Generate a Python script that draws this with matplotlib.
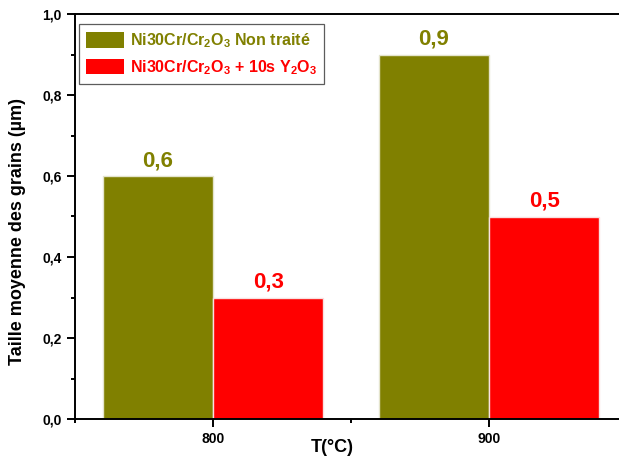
import numpy as np
import matplotlib
matplotlib.use("Agg")
import matplotlib.pyplot as plt
from matplotlib.ticker import MultipleLocator, FuncFormatter

# data
temperatures = [800, 900]
untreated = [0.6, 0.9]
treated = [0.3, 0.5]
untreated_labels = ["0,6", "0,9"]
treated_labels = ["0,3", "0,5"]
series_names = [r"Ni30Cr/Cr$_\mathbf{2}$O$_\mathbf{3}$ Non traité",
                r"Ni30Cr/Cr$_\mathbf{2}$O$_\mathbf{3}$ + 10s Y$_\mathbf{2}$O$_\mathbf{3}$"]

olive = "#808000"
red = "#ff0000"

plt.rcParams["font.family"] = ["Liberation Sans", "DejaVu Sans"]
plt.rcParams["font.weight"] = "bold"
plt.rcParams["mathtext.fontset"] = "custom"
plt.rcParams["mathtext.rm"] = "Liberation Sans:bold"
plt.rcParams["mathtext.bf"] = "Liberation Sans:bold"
plt.rcParams["mathtext.it"] = "Liberation Sans:bold"

fig = plt.figure(figsize=(6.19, 4.62), dpi=100)
ax = fig.add_axes([75 / 619, 43 / 462, 552 / 619, 405 / 462])

x = np.array(temperatures)
w = 40
b1 = ax.bar(x - w / 2, untreated, width=w, color=olive, edgecolor="#e4e4cc",
            linewidth=1.0, label=series_names[0])
b2 = ax.bar(x + w / 2, treated, width=w, color=red, edgecolor="#f8e0e0",
            linewidth=1.0, label=series_names[1])

for xi, v, t in zip(x - w / 2, untreated, untreated_labels):
    ax.annotate(t, (xi, v), xytext=(0, 7), textcoords="offset points",
                ha="center", va="baseline", color=olive, fontsize=16, fontweight="bold")
for xi, v, t in zip(x + w / 2, treated, treated_labels):
    ax.annotate(t, (xi, v), xytext=(0, 7), textcoords="offset points",
                ha="center", va="baseline", color=red, fontsize=16, fontweight="bold")

ax.set_xlim(750, 950)
ax.set_ylim(0, 1.0)
ax.set_xticks(temperatures)
ax.xaxis.set_minor_locator(MultipleLocator(50))
ax.yaxis.set_major_locator(MultipleLocator(0.2))
ax.yaxis.set_minor_locator(MultipleLocator(0.1))
ax.yaxis.set_major_formatter(FuncFormatter(lambda v, p: f"{v:.1f}".replace(".", ",")))

for s in ["left", "bottom", "top", "right"]:
    ax.spines[s].set_linewidth(1.4)
ax.tick_params(axis="both", which="major", direction="out", length=6, width=1.4, pad=3.5)
ax.tick_params(axis="both", which="minor", direction="out", length=3, width=1.4)
ax.tick_params(axis="x", labelsize=10)
ax.tick_params(axis="y", labelsize=10)
for lab in ax.get_xticklabels() + ax.get_yticklabels():
    lab.set_fontweight("bold")

ax.set_xlabel("T(°C)", fontsize=13, fontweight="bold")
ax.set_ylabel("Taille moyenne des grains (µm)", fontsize=13, fontweight="bold")
ax.xaxis.set_label_coords(0.466, -0.05)
ax.yaxis.set_label_coords(-0.089, 0.464)

leg = ax.legend(loc="upper left", bbox_to_anchor=(0.007, 0.975), borderaxespad=0,
                fontsize=11.5, frameon=True, fancybox=False, edgecolor="#333333",
                handlelength=2.4, handleheight=1.1, handletextpad=0.35,
                labelspacing=0.5, borderpad=0.45)
leg.get_frame().set_linewidth(0.9)
for h in leg.legend_handles:
    h.set_edgecolor("none")
for t, c in zip(leg.get_texts(), [olive, red]):
    t.set_color(c)
    t.set_fontweight("bold")

fig.savefig("out.png", dpi=100)
